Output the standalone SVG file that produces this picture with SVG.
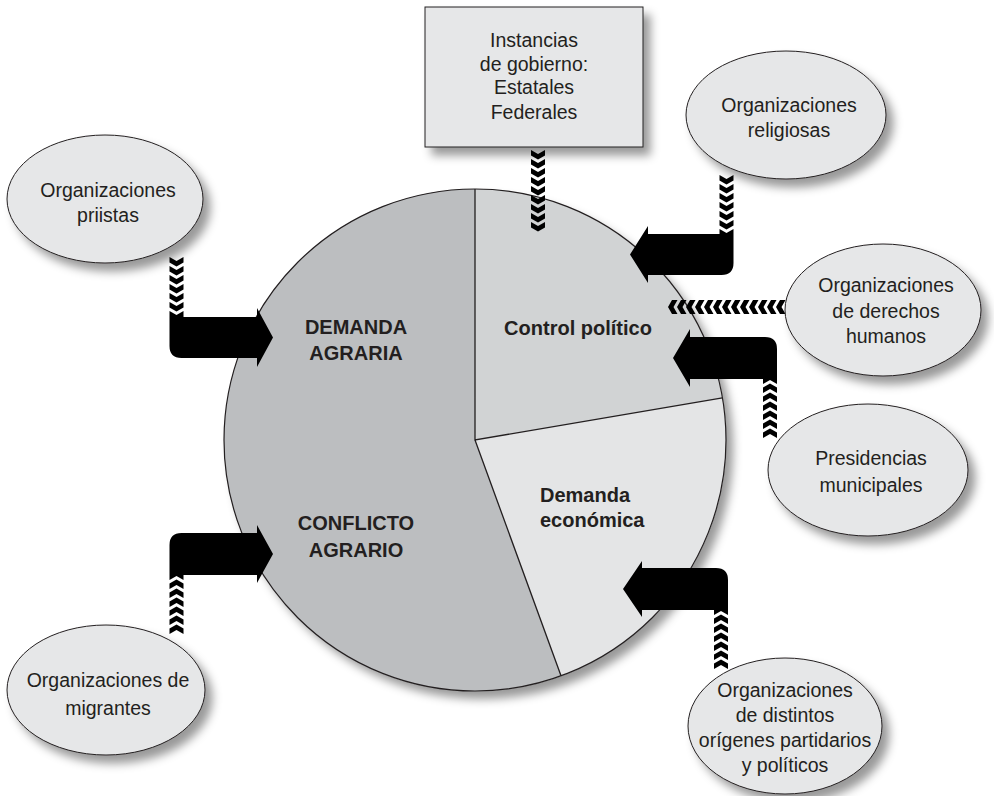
<svg xmlns="http://www.w3.org/2000/svg" width="994" height="796" viewBox="0 0 994 796">
<defs>
<filter id="sh" x="-20%" y="-20%" width="150%" height="150%">
<feDropShadow dx="7" dy="8" stdDeviation="5" flood-color="#000" flood-opacity="0.4"/>
</filter>
<path id="cv" d="M-7,-4 L0,0 L7,-4 L7,1.5 L0,5.5 L-7,1.5 Z"/>
</defs>
<style>
.node{fill:#e6e7e8;stroke:#231f20;stroke-width:1}
.t{font-family:"Liberation Sans",Arial,Helvetica,sans-serif;font-size:19.5px;fill:#231f20;text-anchor:middle}
.b{font-family:"Liberation Sans",Arial,Helvetica,sans-serif;font-size:20px;font-weight:bold;fill:#231f20}
.m{text-anchor:middle}
.arrow{fill:#000}
</style>
<rect width="994" height="796" fill="#fff"/>

<g id="pie">
<circle cx="475" cy="440" r="251" fill="#bcbec0" filter="url(#sh)"/>
<path d="M475,440 L561,675.8 A251,251 0 1 1 475,189 Z" fill="#bcbec0"/>
<path d="M475,440 L475,189 A251,251 0 0 1 722.4,397.8 Z" fill="#d1d3d4"/>
<path d="M475,440 L722.4,397.8 A251,251 0 0 1 561,675.8 Z" fill="#e4e5e6"/>
<path d="M475,189 L475,440 L722.4,397.8 M475,440 L561,675.8" fill="none" stroke="#231f20" stroke-width="1.3"/>
<circle cx="475" cy="440" r="251" fill="none" stroke="#231f20" stroke-width="1.2"/>
<text class="b m" x="356" y="334">DEMANDA</text>
<text class="b m" x="356" y="360">AGRARIA</text>
<text class="b m" x="356" y="530">CONFLICTO</text>
<text class="b m" x="356" y="557">AGRARIO</text>
<text class="b m" x="578" y="335">Control político</text>
<text class="b" x="540" y="502">Demanda</text>
<text class="b" x="540" y="527">económica</text>
</g>

<g id="connectors">
<g class="arrow">
<use href="#cv" transform="translate(538,154)"/>
<use href="#cv" transform="translate(538,163)"/>
<use href="#cv" transform="translate(538,172)"/>
<use href="#cv" transform="translate(538,181)"/>
<use href="#cv" transform="translate(538,190)"/>
<use href="#cv" transform="translate(538,199)"/>
<use href="#cv" transform="translate(538,208)"/>
<use href="#cv" transform="translate(538,217)"/>
<use href="#cv" transform="translate(538,226)"/>
</g>
<g class="arrow">
<use href="#cv" transform="translate(726.5,179)"/>
<use href="#cv" transform="translate(726.5,188)"/>
<use href="#cv" transform="translate(726.5,197)"/>
<use href="#cv" transform="translate(726.5,206)"/>
<use href="#cv" transform="translate(726.5,215)"/>
<use href="#cv" transform="translate(726.5,224)"/>
<path d="M719.5,229 L726.5,233 L733.5,229 L733.5,263 Q733.5,275 721.5,275 L648,275 L648,283 L630,254.5 L648,226 L648,234 L719.5,234 Z"/>
</g>
<g class="arrow">
<use href="#cv" transform="translate(673.5,307) rotate(90)"/>
<use href="#cv" transform="translate(682.5,307) rotate(90)"/>
<use href="#cv" transform="translate(691.5,307) rotate(90)"/>
<use href="#cv" transform="translate(700.5,307) rotate(90)"/>
<use href="#cv" transform="translate(709.5,307) rotate(90)"/>
<use href="#cv" transform="translate(718.5,307) rotate(90)"/>
<use href="#cv" transform="translate(727.5,307) rotate(90)"/>
<use href="#cv" transform="translate(736.5,307) rotate(90)"/>
<use href="#cv" transform="translate(745.5,307) rotate(90)"/>
<use href="#cv" transform="translate(754.5,307) rotate(90)"/>
<use href="#cv" transform="translate(763.5,307) rotate(90)"/>
<use href="#cv" transform="translate(772.5,307) rotate(90)"/>
<use href="#cv" transform="translate(781.5,307) rotate(90)"/>
</g>
<g class="arrow">
<path d="M763,384 L770,380 L777,384 L777,349 Q777,337 765,337 L690,337 L690,329 L673,358 L690,387 L690,379 L763,379 Z"/>
<use href="#cv" transform="translate(770,389) rotate(180)"/>
<use href="#cv" transform="translate(770,398) rotate(180)"/>
<use href="#cv" transform="translate(770,407) rotate(180)"/>
<use href="#cv" transform="translate(770,416) rotate(180)"/>
<use href="#cv" transform="translate(770,425) rotate(180)"/>
<use href="#cv" transform="translate(770,434) rotate(180)"/>
</g>
<g class="arrow">
<path d="M714,615 L721,611 L728,615 L728,580 Q728,568 716,568 L642,568 L642,561 L623,589 L642,617 L642,610 L714,610 Z"/>
<use href="#cv" transform="translate(721,620) rotate(180)"/>
<use href="#cv" transform="translate(721,629) rotate(180)"/>
<use href="#cv" transform="translate(721,638) rotate(180)"/>
<use href="#cv" transform="translate(721,647) rotate(180)"/>
<use href="#cv" transform="translate(721,656) rotate(180)"/>
<use href="#cv" transform="translate(721,665) rotate(180)"/>
</g>
<g class="arrow">
<use href="#cv" transform="translate(176.5,261)"/>
<use href="#cv" transform="translate(176.5,270)"/>
<use href="#cv" transform="translate(176.5,279)"/>
<use href="#cv" transform="translate(176.5,288)"/>
<use href="#cv" transform="translate(176.5,297)"/>
<use href="#cv" transform="translate(176.5,306)"/>
<path d="M169.5,311 L176.5,315 L183.5,311 L183.5,317 L257,317 L257,308 L273,337.5 L257,367 L257,358 L181.5,358 Q169.5,358 169.5,346 Z"/>
</g>
<g class="arrow">
<path d="M169.5,580 L176.5,576 L183.5,580 L183.5,575 L257,575 L257,583 L273,554 L257,525 L257,533 L181.5,533 Q169.5,533 169.5,545 Z"/>
<use href="#cv" transform="translate(176.5,585) rotate(180)"/>
<use href="#cv" transform="translate(176.5,594) rotate(180)"/>
<use href="#cv" transform="translate(176.5,603) rotate(180)"/>
<use href="#cv" transform="translate(176.5,612) rotate(180)"/>
<use href="#cv" transform="translate(176.5,621) rotate(180)"/>
<use href="#cv" transform="translate(176.5,630) rotate(180)"/>
</g>
</g>

<g id="gobierno">
<rect class="node" x="425" y="7" width="218" height="140" filter="url(#sh)"/>
<text class="t" x="534" y="47">Instancias</text>
<text class="t" x="534" y="70.5">de gobierno:</text>
<text class="t" x="534" y="94">Estatales</text>
<text class="t" x="534" y="118.5">Federales</text>
</g>

<g id="priistas">
<ellipse class="node" cx="105" cy="199" rx="98" ry="64" filter="url(#sh)"/>
<text class="t" x="108" y="197">Organizaciones</text>
<text class="t" x="108" y="222">priistas</text>
</g>

<g id="religiosas">
<ellipse class="node" cx="786" cy="115" rx="100" ry="64" filter="url(#sh)"/>
<text class="t" x="789" y="112">Organizaciones</text>
<text class="t" x="789" y="137">religiosas</text>
</g>

<g id="derechos">
<ellipse class="node" cx="883" cy="310" rx="98" ry="66" filter="url(#sh)"/>
<text class="t" x="886" y="292">Organizaciones</text>
<text class="t" x="886" y="317.5">de derechos</text>
<text class="t" x="886" y="343">humanos</text>
</g>

<g id="presidencias">
<ellipse class="node" cx="868" cy="470" rx="100" ry="66" filter="url(#sh)"/>
<text class="t" x="871" y="465">Presidencias</text>
<text class="t" x="871" y="492">municipales</text>
</g>

<g id="migrantes">
<ellipse class="node" cx="106" cy="690" rx="99" ry="65" filter="url(#sh)"/>
<text class="t" x="108" y="687">Organizaciones de</text>
<text class="t" x="108" y="715">migrantes</text>
</g>

<g id="distintos">
<ellipse class="node" cx="785" cy="726" rx="97" ry="68" filter="url(#sh)"/>
<text class="t" x="785" y="697">Organizaciones</text>
<text class="t" x="785" y="722">de distintos</text>
<text class="t" x="785" y="747">orígenes partidarios</text>
<text class="t" x="785" y="772">y políticos</text>
</g>
</svg>
